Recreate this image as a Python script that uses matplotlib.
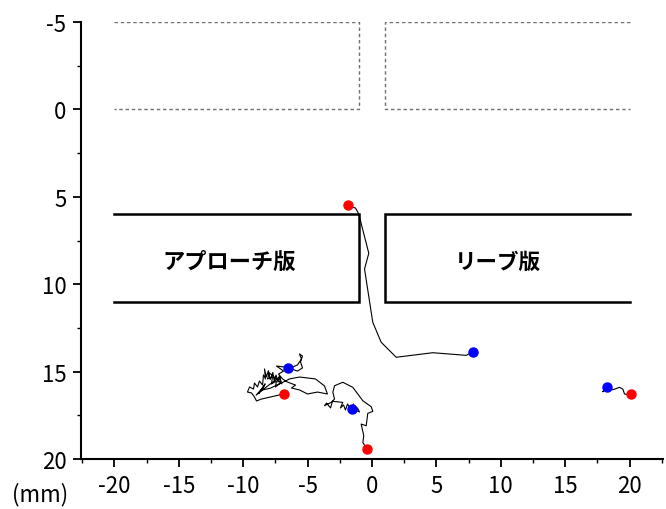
import matplotlib
matplotlib.use("Agg")
import matplotlib.pyplot as plt

plt.rcParams['font.family'] = ['Noto Sans CJK JP', 'DejaVu Sans']

# Door outlines (mm): dotted upper frames, solid lower boards
frame_top, frame_bottom = -5, 0
board_top, board_bottom = 6, 11
left_outer, left_inner = -20, -1
right_inner, right_outer = 1, 20
label_left = "アプローチ版"
label_right = "リーブ版"
label_left_pos = (-11.1, 8.7)
label_right_pos = (9.8, 8.7)

# Trajectories (x, y in mm); first point red, last point blue
t1_x = [-1.88, -1.54, -1.28, -1.03, -0.25, -0.58, 0.06, 0.71, 1.88, 4.72, 7.32, 7.83]
t1_y = [5.47, 5.60, 5.64, 5.98, 8.23, 9.13, 12.18, 13.32, 14.18, 13.92, 14.07, 13.86]

t2_x = [-6.87, -7.57, -8.58, -8.97, -9.13, -9.36, -9.67, -9.51, -9.20, -9.13, -8.89, -8.74,
        -8.50, -8.43, -8.27, -8.35, -8.20, -8.05, -7.90, -7.70, -7.60, -7.45, -7.30, -7.20,
        -7.00, -7.96, -8.12, -7.73, -7.81, -7.42, -7.50, -7.11, -7.18, -8.60, -8.30, -8.80,
        -8.40, -9.00, -8.50, -7.90, -6.72, -6.41, -5.63, -4.39, -3.69, -3.46, -4.23, -5.01,
        -5.63, -6.25, -5.94, -6.56, -6.95, -7.26, -6.87, -7.42, -6.80, -6.25, -5.79, -5.40,
        -5.55, -5.40, -5.63, -5.48, -5.79, -6.17, -6.54]
t2_y = [16.28, 16.40, 16.57, 16.68, 16.45, 16.22, 16.17, 15.88, 16.00, 15.65, 15.88, 15.54,
        15.77, 15.19, 15.42, 14.85, 15.30, 14.95, 15.45, 15.05, 15.50, 15.20, 15.60, 15.25,
        15.70, 15.08, 15.42, 15.31, 15.71, 15.54, 15.88, 15.65, 15.31, 16.10, 15.70, 16.25,
        15.85, 16.35, 16.05, 15.95, 15.54, 15.42, 15.31, 15.42, 15.82, 16.28, 16.17, 16.28,
        16.05, 15.94, 15.77, 15.60, 15.42, 15.14, 14.97, 14.68, 14.74, 14.85, 14.97, 14.79,
        14.45, 14.11, 13.99, 14.28, 14.62, 14.74, 14.79]

t3_x = [-0.40, -0.71, -0.64, -0.84, -0.45, -0.33, 0.06, -0.06, -0.71, -1.49, -2.27, -2.91,
        -3.04, -2.91, -3.17, -3.69, -3.53, -3.22, -3.07, -2.27, -2.45, -2.21, -2.06, -1.90,
        -1.75, -1.67, -1.44, -1.28, -1.13, -0.97, -1.54]
t3_y = [19.45, 19.05, 18.67, 18.00, 18.10, 17.39, 17.27, 17.01, 16.67, 15.90, 15.61, 15.81,
        16.18, 16.57, 16.76, 16.95, 16.80, 17.08, 16.70, 16.76, 17.08, 16.91, 17.20, 16.85,
        17.04, 17.31, 16.85, 17.37, 17.08, 17.31, 17.14]

t4_x = [20.12, 19.86, 19.61, 19.48, 19.22, 18.70, 18.24, 17.93, 18.24]
t4_y = [16.28, 16.32, 16.28, 16.00, 15.90, 16.04, 15.90, 16.15, 15.90]

tracks = [(t1_x, t1_y), (t2_x, t2_y), (t3_x, t3_y), (t4_x, t4_y)]
start_x = [-1.88, -6.87, -0.40, 20.12]
start_y = [5.47, 16.28, 19.45, 16.28]
end_x = [7.83, -6.54, -1.54, 18.24]
end_y = [13.86, 14.79, 17.14, 15.90]

x_ticks = [-20, -15, -10, -5, 0, 5, 10, 15, 20]
y_ticks = [-5, 0, 5, 10, 15, 20]

fig = plt.figure(figsize=(6.66, 5.10), dpi=100)
ax = fig.add_axes([81/666, 1-460/510, (663-81)/666, (460-23)/510])

# dotted frames
ax.plot([left_outer, left_inner, left_inner, left_outer],
        [frame_top, frame_top, frame_bottom, frame_bottom],
        color='#707070', lw=1.0, ls=(0, (2.5, 2)))
ax.plot([right_outer, right_inner, right_inner, right_outer],
        [frame_top, frame_top, frame_bottom, frame_bottom],
        color='#707070', lw=1.0, ls=(0, (2.5, 2)))
# solid boards
ax.plot([left_outer, left_inner, left_inner, left_outer],
        [board_top, board_top, board_bottom, board_bottom],
        color='black', lw=1.8, solid_joinstyle='miter')
ax.plot([right_outer, right_inner, right_inner, right_outer],
        [board_top, board_top, board_bottom, board_bottom],
        color='black', lw=1.8, solid_joinstyle='miter')

ax.text(*label_left_pos, label_left, ha='center', va='center', fontsize=16, fontweight='bold')
ax.text(*label_right_pos, label_right, ha='center', va='center', fontsize=15.5, fontweight='bold')

for tx, ty in tracks:
    ax.plot(tx, ty, color='black', lw=0.8)

ax.plot(start_x, start_y, 'o', color='#ff0000', ms=6.5, ls='none', zorder=5)
ax.plot(end_x, end_y, 'o', color='#0000ff', ms=6.5, ls='none', zorder=5)

ax.set_xlim(-22.6, 22.6)
ax.set_ylim(20, -5)
ax.set_xticks(x_ticks)
ax.set_yticks(y_ticks)
ax.set_xticklabels([str(v) for v in x_ticks])
ax.set_yticklabels([str(v) for v in y_ticks])
ax.set_xticks([v + 2.5 for v in x_ticks[:-1]] + [-22.5, 22.5], minor=True)
ax.set_yticks([v + 2.5 for v in y_ticks[:-1]], minor=True)

for s in ['top', 'right']:
    ax.spines[s].set_visible(False)
for s in ['left', 'bottom']:
    ax.spines[s].set_linewidth(1.5)

ax.tick_params(which='major', direction='out', length=5.5, width=1.3, labelsize=16, pad=5)
ax.tick_params(which='minor', direction='out', length=2.8, width=1.0)

fig.text(40/666, 1-495/510, "(mm)", ha='center', va='center', fontsize=16)

fig.savefig("out.png", dpi=100)
